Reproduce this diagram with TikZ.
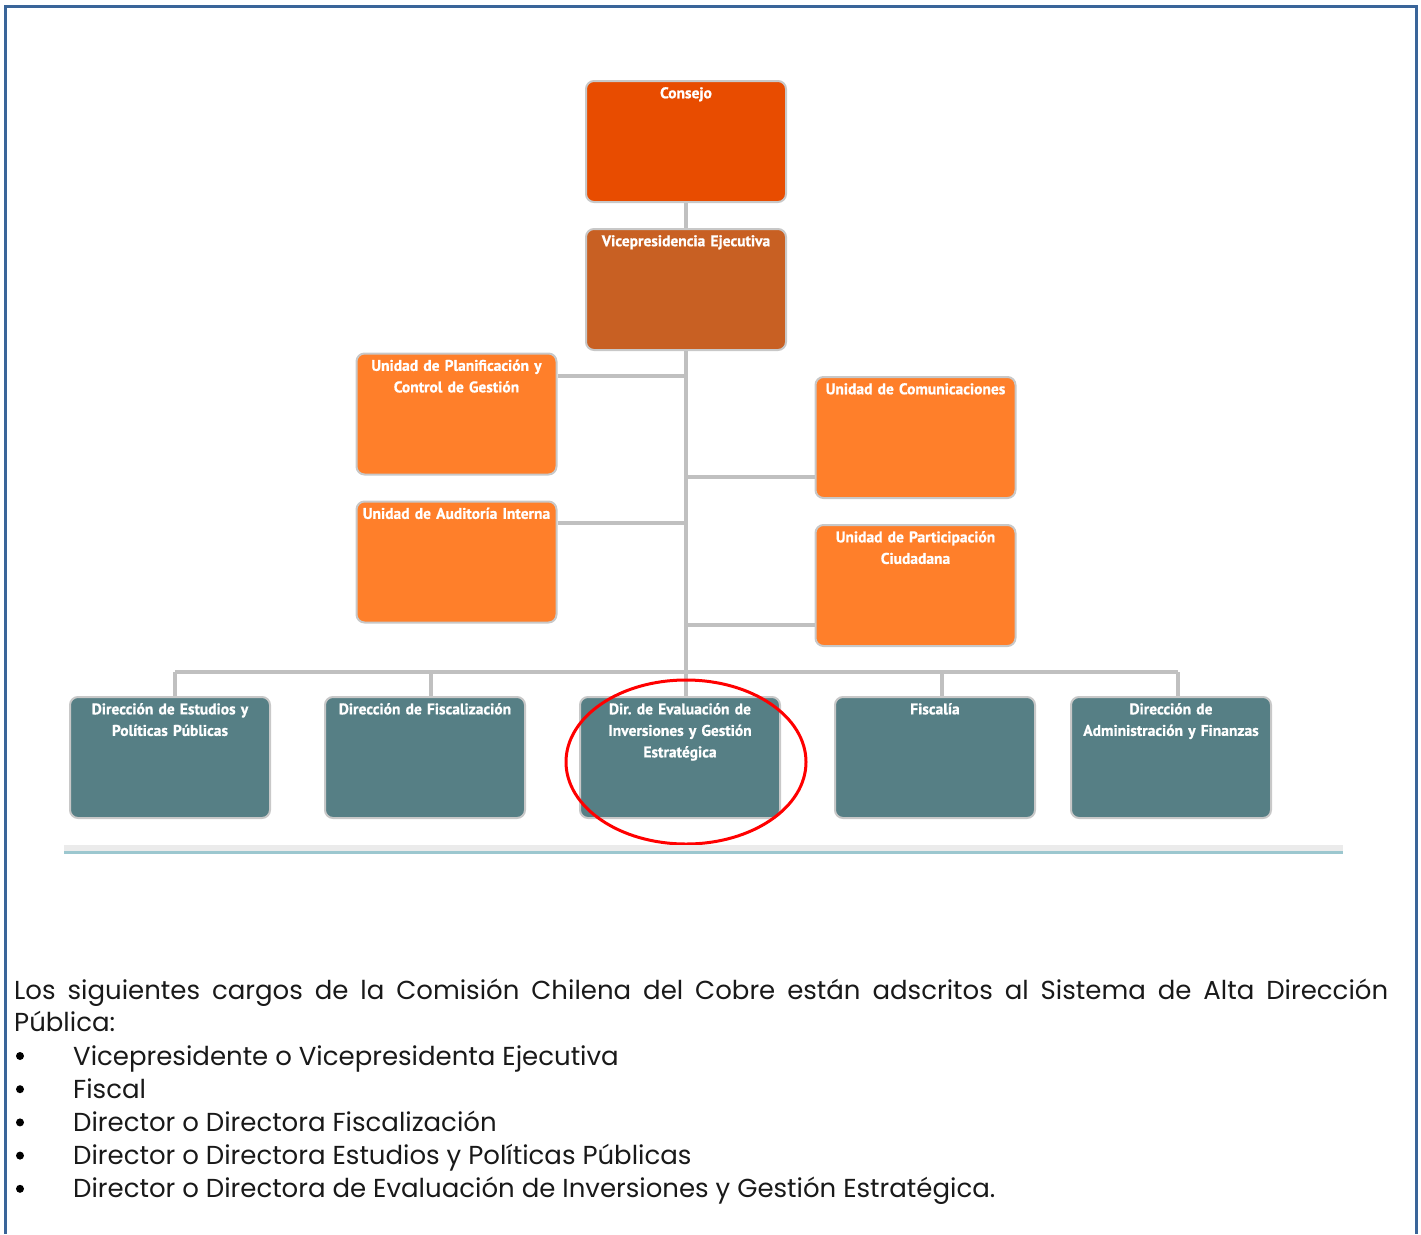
\documentclass[tikz,border=0pt]{standalone}
\usepackage{fontspec}
\setmainfont{Poppins}
\newfontfamily\boxfont{PT Sans}[BoldFeatures={FakeBold=0.8}]
\frenchspacing
\definecolor{frameblue}{HTML}{3A6599}
\definecolor{consejo}{HTML}{E84C00}
\definecolor{vicep}{HTML}{C86023}
\definecolor{unidad}{HTML}{FF7F2A}
\definecolor{direc}{HTML}{567F85}
\definecolor{conn}{HTML}{C0C0C0}
\definecolor{boxedge}{HTML}{C8C8C8}
\definecolor{sepgray}{HTML}{EBEBEB}
\definecolor{septeal}{HTML}{9CC7CF}
\tikzset{
  orgbox/.style={draw=boxedge, line width=2pt, rounded corners=8pt, minimum width=200pt, minimum height=121pt, inner sep=0pt},
  boxlabel/.style={anchor=north, text=white, font=\boxfont\bfseries\fontsize{15.5}{21.5}\selectfont, align=center, text width=198pt, inner sep=0pt},
  link/.style={draw=conn, line width=4pt},
  bodytext/.style={font=\fontsize{26}{32.5}\selectfont, text=black!90, inner sep=0pt}
}
\begin{document}
\begin{tikzpicture}[x=1pt,y=-1pt]
\useasboundingbox (0,0) rectangle (1421,1234);
% frame
\draw[frameblue, line width=3pt] (5.5,1234) -- (5.5,6.5) -- (1416,6.5) -- (1416,1234);
% boxes
\node[orgbox, fill=consejo] (cons) at (686,141.5) {};
\node[orgbox, fill=vicep] (vp) at (686,289.5) {};
\node[orgbox, fill=unidad] (plan) at (456.5,414) {};
\node[orgbox, fill=unidad] (aud) at (456.5,562) {};
\node[orgbox, fill=unidad] (com) at (915.5,437.5) {};
\node[orgbox, fill=unidad] (part) at (915.5,585.5) {};
% connectors
\coordinate (trunk) at (686,672);
\coordinate (barL) at (175,672);
\coordinate (barR) at (1178,672);
\coordinate (dropF) at (431,672);
\coordinate (dropS) at (942,672);
\draw[link] (cons.south) -- (vp.north);
\draw[link] (vp.south) -- (trunk);
\draw[link] ([yshift=-23pt]plan.north east) -- ++(129pt,0pt);
\draw[link] ([yshift=-22pt]aud.north east) -- ++(129pt,0pt);
\draw[link] ([yshift=22pt]com.south west) -- ++(-129pt,0pt);
\draw[link] ([yshift=22pt]part.south west) -- ++(-129pt,0pt);
\draw[link] (barL) -- (barR);
\draw[link] (barL) -- ++(0,26);
\draw[link] (dropF) -- ++(0,26);
\draw[link] (trunk) -- ++(0,26);
\draw[link] (dropS) -- ++(0,26);
\draw[link] (barR) -- ++(0,26);
% bottom row boxes
\node[orgbox, fill=direc] (est) at (170,757.5) {};
\node[orgbox, fill=direc] (fis) at (425,757.5) {};
\node[orgbox, fill=direc] (eval) at (680,757.5) {};
\node[orgbox, fill=direc] (fiscalia) at (935,757.5) {};
\node[orgbox, fill=direc] (adm) at (1171,757.5) {};
% labels
\node[boxlabel] (consT) at ([yshift=-7pt]cons.north) {Consejo};
\node[boxlabel] (vpT) at ([yshift=-7pt]vp.north) {Vicepresidencia Ejecutiva};
\node[boxlabel] (planT) at ([yshift=-7pt]plan.north) {Unidad de Planificación y\\Control de Gestión};
\node[boxlabel] (audT) at ([yshift=-7pt]aud.north) {Unidad de Auditoría Interna};
\node[boxlabel] (comT) at ([yshift=-7pt]com.north) {Unidad de Comunicaciones};
\node[boxlabel] (partT) at ([yshift=-7pt]part.north) {Unidad de Participación\\Ciudadana};
\node[boxlabel] (estT) at ([yshift=-7pt]est.north) {Dirección de Estudios y\\Políticas Públicas};
\node[boxlabel] (fisT) at ([yshift=-7pt]fis.north) {Dirección de Fiscalización};
\node[boxlabel] (evalT) at ([yshift=-7pt]eval.north) {Dir. de Evaluación de\\Inversiones y Gestión\\Estratégica};
\node[boxlabel] (fiscaliaT) at ([yshift=-7pt]fiscalia.north) {Fiscalía};
\node[boxlabel] (admT) at ([yshift=-7pt]adm.north) {Dirección de\\Administración y Finanzas};
% red highlight ellipse
\draw[red, line width=3pt] (686,762) ellipse [x radius=120pt, y radius=82pt];
% separator
\fill[sepgray] (64,845) rectangle (1343,851);
\fill[septeal] (64,851) rectangle (1343,853.5);
% text
\node[bodytext, text width=1374pt, align=justify, anchor=base west] (para) at (14,999) {Los siguientes cargos de la Comisión Chilena del Cobre están adscritos al Sistema de Alta Dirección\linebreak Pública:};
\foreach \t [count=\i] in {Vicepresidente o Vicepresidenta Ejecutiva, Fiscal, Director o Directora Fiscalización, Director o Directora Estudios y Políticas Públicas, Director o Directora de Evaluación de Inversiones y Gestión Estratégica.}{
  \node[bodytext, anchor=base west] (item\i) at (73,{1065+(\i-1)*33.2}) {\t};
  \fill[black] (20,{1056+(\i-1)*33.2}) circle (4pt);
}
\end{tikzpicture}
\end{document}
